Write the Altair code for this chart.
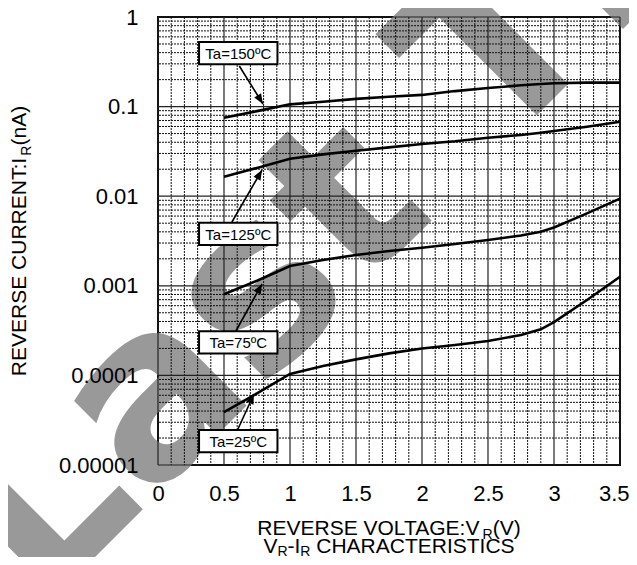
import math
import altair as alt
import pandas as pd

# ---------------- data ----------------
V = [0.5, 0.75, 1.0, 1.25, 1.5, 1.75, 2.0, 2.25, 2.5, 2.75, 2.9, 3.0, 3.25, 3.5]
I_150 = [0.075, 0.089, 0.106, 0.1135, 0.122, 0.129, 0.135, 0.149, 0.161, 0.173, 0.179, 0.182, 0.185, 0.185]
I_125 = [0.0165, 0.0207, 0.0262, 0.0293, 0.0322, 0.0351, 0.0383, 0.041, 0.045, 0.0482, 0.0511, 0.0534, 0.0597, 0.0679]
I_75 = [0.000804, 0.00114, 0.00166, 0.00194, 0.00221, 0.00245, 0.00266, 0.00293, 0.00324, 0.00364, 0.00402, 0.00448, 0.00644, 0.0094]
I_25 = [3.9e-5, 6.3e-5, 1.04e-4, 1.27e-4, 1.51e-4, 1.76e-4, 2.0e-4, 2.18e-4, 2.42e-4, 2.82e-4, 3.27e-4, 3.94e-4, 6.95e-4, 1.26e-3]

labels = ["Ta=150ºC", "Ta=125ºC", "Ta=75ºC", "Ta=25ºC"]
label_v = [0.608, 0.608, 0.608, 0.608]
label_i = [0.395, 0.0038, 2.34e-4, 1.85e-5]
arrow_v0 = [0.616, 0.56, 0.59, 0.606]
arrow_i0 = [0.284, 0.00515, 3.13e-4, 2.52e-5]
arrow_v1 = [0.795, 0.788, 0.788, 0.727]
arrow_i1 = [0.107, 0.0196, 0.00105, 6.2e-5]

x_ticks = [0, 0.5, 1, 1.5, 2, 2.5, 3, 3.5]
y_ticks = [1e-5, 1e-4, 1e-3, 1e-2, 1e-1, 1]

# ---------------- layout constants ----------------
W, H = 462, 448
XMIN, XMAX = 0.0, 3.5
DEC = 5.0
FONT = "Liberation Sans"

# ---------------- tables ----------------
rows = []
for name, arr in [("150", I_150), ("125", I_125), ("75", I_75), ("25", I_25)]:
    for v, i in zip(V, arr):
        rows.append({"V": v, "I": i, "series": name})
curves = pd.DataFrame(rows)

vg = [round(k * 0.1, 1) for k in range(0, 36)]
vgrid = pd.DataFrame({"gv": vg, "major": [abs(v * 2 - round(v * 2)) < 1e-9 for v in vg]})
hg = []
for e in range(-5, 0):
    for k in range(1, 10):
        hg.append({"gi": k * 10.0 ** e, "major": k == 1})
hg.append({"gi": 1.0, "major": True})
hgrid = pd.DataFrame(hg)

half_w = 0.297
fac = 10 ** 0.1245
boxes = pd.DataFrame({
    "label": labels,
    "v": label_v,
    "i": label_i,
    "v0": [v - half_w for v in label_v],
    "v1": [v + half_w for v in label_v],
    "i0": [i / fac for i in label_i],
    "i1": [i * fac for i in label_i],
})


def px_dir(v0, i0, v1, i1):
    dx = (v1 - v0) * W / (XMAX - XMIN)
    dy = -(math.log10(i1) - math.log10(i0)) * H / DEC
    return math.degrees(math.atan2(dx, -dy)) % 360


arrows = pd.DataFrame({
    "v0": arrow_v0, "i0": arrow_i0, "v1": arrow_v1, "i1": arrow_i1,
    "ang": [px_dir(a, b, c, d) for a, b, c, d in zip(arrow_v0, arrow_i0, arrow_v1, arrow_i1)],
})

xs = alt.Scale(domain=[XMIN, XMAX], nice=False, zero=False)
ys = alt.Scale(type="log", domain=[1e-5, 1], nice=False)
x_axis = alt.Axis(values=x_ticks, format="~g", labelFontSize=22, labelFont=FONT, labelColor="black",
                  ticks=False, tickSize=0, domain=False, grid=False, labelPadding=18, title=None,
                  zindex=1, labelFlush=False, labelOverlap=False, labelBound=False,
                  labelAlign=alt.condition("datum.value == 3.5", alt.value("right"), alt.value("center")),
                  labelOffset=alt.condition("datum.value == 3.5", alt.value(9), alt.value(0)))
y_axis = alt.Axis(values=y_ticks, labelExpr="format(datum.value, '.5~f')", labelFontSize=22,
                  labelFont=FONT, labelColor="black", ticks=False, tickSize=0, domain=False,
                  grid=False, labelPadding=20, title=None, zindex=1, labelFlush=False,
                  labelOverlap=False, labelBound=False)

one = pd.DataFrame({"a": [0]})

# watermark
watermark = alt.Chart(one).mark_text(
    text="Last Time Buy", angle=315, font="DejaVu Sans", fontWeight="bold", fontSize=235,
    color="#999999", align="left", baseline="alphabetic"
).encode(x=alt.value(-116.5), y=alt.value(593.5))

vminor = alt.Chart(vgrid[~vgrid.major]).mark_rule(color="#111111", strokeWidth=1, strokeDash=[2, 1]).encode(
    x=alt.X("gv:Q", scale=xs, axis=x_axis))
vmajor = alt.Chart(vgrid[vgrid.major]).mark_rule(color="#222222", strokeWidth=1.2).encode(
    x=alt.X("gv:Q", scale=xs, axis=x_axis))
hminor = alt.Chart(hgrid[~hgrid.major]).mark_rule(color="#111111", strokeWidth=1, strokeDash=[2, 1]).encode(
    y=alt.Y("gi:Q", scale=ys, axis=y_axis))
hmajor = alt.Chart(hgrid[hgrid.major]).mark_rule(color="#222222", strokeWidth=1.2).encode(
    y=alt.Y("gi:Q", scale=ys, axis=y_axis))

lines = alt.Chart(curves).mark_line(color="black", strokeWidth=2.6).encode(
    x=alt.X("V:Q", scale=xs, axis=x_axis),
    y=alt.Y("I:Q", scale=ys, axis=y_axis),
    detail="series:N",
)

arrow_lines = alt.Chart(arrows).mark_rule(color="black", strokeWidth=1.6).encode(
    x=alt.X("v0:Q", scale=xs, axis=x_axis), y=alt.Y("i0:Q", scale=ys, axis=y_axis),
    x2="v1:Q", y2="i1:Q")
arrow_heads = alt.Chart(arrows).mark_point(
    shape="M0,0L-0.8,2L0.8,2Z", filled=True, color="black", opacity=1, size=100, strokeWidth=0
).encode(
    x=alt.X("v1:Q", scale=xs, axis=x_axis), y=alt.Y("i1:Q", scale=ys, axis=y_axis),
    angle=alt.Angle("ang:Q", scale=None))

box_rects = alt.Chart(boxes).mark_rect(fill="white", stroke="black", strokeWidth=2).encode(
    x=alt.X("v0:Q", scale=xs, axis=x_axis), x2="v1:Q",
    y=alt.Y("i0:Q", scale=ys, axis=y_axis), y2="i1:Q")
box_text = alt.Chart(boxes).mark_text(font=FONT, fontSize=15, color="black", align="center",
                                      baseline="middle", dy=1).encode(
    x=alt.X("v:Q", scale=xs, axis=x_axis), y=alt.Y("i:Q", scale=ys, axis=y_axis), text="label:N")

# ---------------- titles with subscripts ----------------
AW = {' ': 278, 'R': 722, 'E': 667, 'V': 667, 'S': 667, 'O': 778, 'L': 556, 'T': 611, 'A': 667,
      'G': 778, ':': 278, '(': 333, ')': 333, 'C': 722, 'U': 722, 'N': 722, 'I': 278, 'H': 722,
      '-': 333, 'n': 556}


def tw(s, size):
    return sum(AW.get(c, 600) for c in s) * size / 1000.0


BIG, SUB = 21, 14
title_layers = []


def horiz_title(segs, cx, base, drop):
    total = sum(tw(t, s) for t, s, _ in segs)
    x = cx - total / 2
    for t, s, sub in segs:
        lead = len(t) - len(t.lstrip(" "))
        title_layers.append(alt.Chart(one).mark_text(
            text=t.strip(" "), font=FONT, fontSize=s, color="black", align="left", baseline="alphabetic"
        ).encode(x=alt.value(x + tw(" " * lead, s)), y=alt.value(base + (drop if sub else 0))))
        x += tw(t, s)


def vert_title(segs, cy, base, drop):
    total = sum(tw(t, s) for t, s, _ in segs)
    y = cy + total / 2
    for t, s, sub in segs:
        title_layers.append(alt.Chart(one).mark_text(
            text=t, font=FONT, fontSize=s, color="black", align="left", baseline="alphabetic", angle=270
        ).encode(x=alt.value(base + (drop if sub else 0)), y=alt.value(y)))
        y -= tw(t, s)


horiz_title([("REVERSE VOLTAGE:V", BIG, False), ("R", SUB, True), ("(V)", BIG, False)], W / 2, 518, 4)
horiz_title([("V", BIG, False), ("R", SUB, True), ("-I", BIG, False), ("R", SUB, True),
             (" CHARACTERISTICS", BIG, False)], W / 2, 536, 3)
vert_title([("REVERSE CURRENT:I", BIG, False), ("R", SUB, True), ("(nA)", BIG, False)], H / 2, -132, 4.5)

chart = alt.layer(
    watermark, vminor, vmajor, hminor, hmajor, lines, arrow_lines, arrow_heads, box_rects, box_text,
    *title_layers
).properties(
    width=W, height=H,
    padding={"left": 150, "top": 9, "right": 9, "bottom": 92},
    autosize=alt.AutoSizeParams(type="none"),
).configure_view(stroke="black", strokeWidth=2)

chart.save("out.html", embed_options={"renderer": "svg", "actions": False})
